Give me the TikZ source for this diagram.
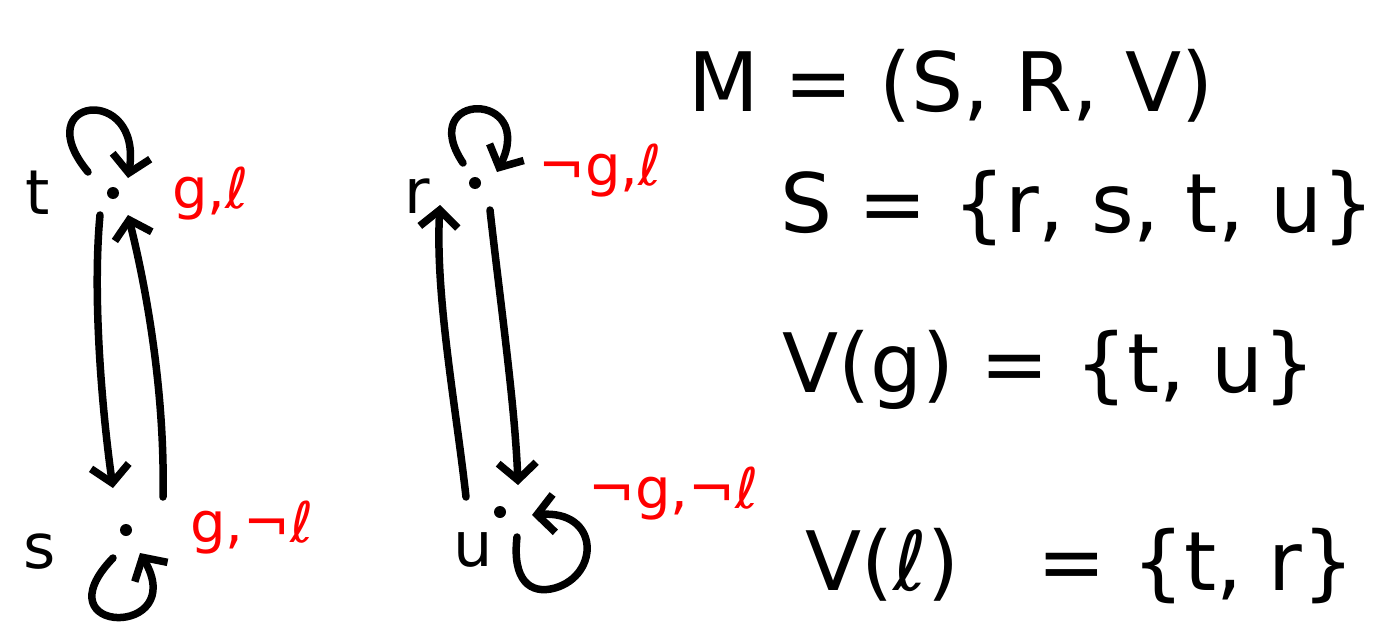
\documentclass[tikz,border=0pt]{standalone}
\usepackage{fontspec}
\setmainfont{DejaVu Sans}
\usetikzlibrary{arrows.meta}
\tikzset{
  world/.style={circle,fill=black,inner sep=0pt,minimum size=12pt},
  wname/.style={font=\fontsize{62}{62}\selectfont,inner sep=0pt},
  val/.style={text=red,font=\fontsize{56}{56}\selectfont,inner sep=0pt,anchor=base west},
  eq/.style={font=\fontsize{82}{82}\selectfont,inner sep=0pt,anchor=base west},
  rel/.style={line width=7.5pt,line cap=round,line join=round,-{Straight Barb[length=17pt,width=38pt,line width=7.5pt]}},
}
\begin{document}
\begin{tikzpicture}[x=1pt,y=-1pt]
\path[use as bounding box,fill=white] (0,0) rectangle (1375,623);
% worlds
\node[world] (t) at (113,193) {};
\node[world] (s) at (126,530) {};
\node[world] (r) at (475,183) {};
\node[world] (u) at (500,512) {};
% world names
\node[wname] (tl) at (38,193) {t};
\node[wname] (sl) at (40,552) {s};
\node[wname] (rl) at (417,196) {r};
\node[wname] (ul) at (473,550) {u};
% valuations
\node[val] (tv) at (172,208) {g,ℓ};
\node[val] (sv) at (190,542) {g,¬ℓ};
\node[val] (rv) at (538,185) {¬g,ℓ};
\node[val] (uv) at (588,508) {¬g,¬ℓ};
% relations between worlds
\draw[rel] ([shift={(-13,22)}]t.center) .. controls +(-8,85) and +(-10,-70) .. ([shift={(-13,-42)}]s.center);
\draw[rel] ([shift={(37,-33)}]s.center) .. controls +(2,-100) and +(20,80) .. ([shift={(15,22)}]t.center);
\draw[rel] ([shift={(-34,-15)}]u.center) .. controls +(-10,-90) and +(-5,90) .. ([shift={(-35,22)}]r.center);
\draw[rel] ([shift={(15,27)}]r.center) .. controls +(10,90) and +(-3,-80) .. ([shift={(18,-27)}]u.center);
% reflexive loops
\draw[rel] ([shift={(-25,-21)}]t.center) .. controls +(-62,-75) and +(15,-95) .. ([shift={(15,-15)}]t.center);
\draw[rel] ([shift={(-12,-20)}]r.center) .. controls +(-48,-72) and +(40,-82) .. ([shift={(22,-11)}]r.center);
\draw[rel] ([shift={(-13,28)}]s.center) .. controls +(-75,78) and +(50,85) .. ([shift={(14,23)}]s.center);
\draw[rel] ([shift={(17,25)}]u.center) .. controls +(-5,43) and +(-25,7) .. ([shift={(55,76)}]u.center) .. controls +(45,-13) and +(68,-5) .. ([shift={(32,3)}]u.center);
% model definition
\node[eq] (m) at (688,112) {M = (S, R, V)};
\node[eq] (sdef) at (780,232) {S = \{r, s, t, u\}};
\node[eq] (vg) at (782,392) {V(g) = \{t, u\}};
\node[eq] (vl) at (805,590) {V(ℓ) \ \ = \{t, r\}};
\end{tikzpicture}
\end{document}
